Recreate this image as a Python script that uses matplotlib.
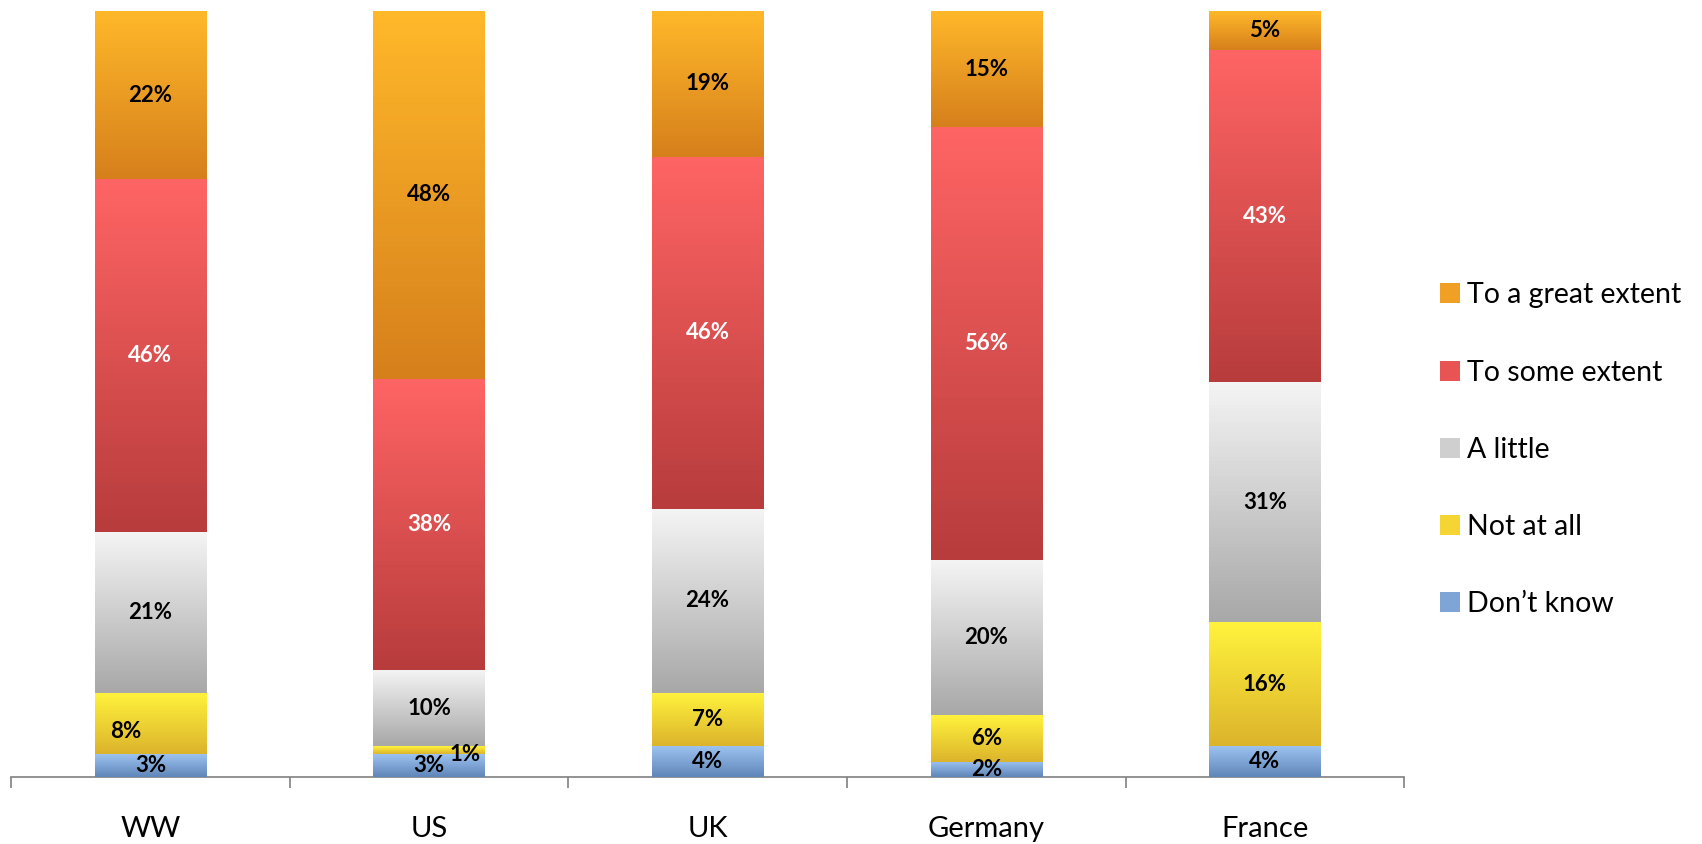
import matplotlib
matplotlib.use("Agg")
import matplotlib.pyplot as plt
import numpy as np
from matplotlib.colors import LinearSegmentedColormap
from matplotlib.patches import Rectangle

plt.rcParams['font.family'] = ['Lato', 'DejaVu Sans']

countries = ["WW", "US", "UK", "Germany", "France"]
series_names = ["Don\u2019t know", "Not at all", "A little", "To some extent", "To a great extent"]
dont_know = [3, 3, 4, 2, 4]
not_at_all = [8, 1, 7, 6, 16]
a_little = [21, 10, 24, 20, 31]
some_extent = [46, 38, 46, 56, 43]
great_extent = [22, 48, 19, 15, 5]

series = [dont_know, not_at_all, a_little, some_extent, great_extent]
# (top colour, bottom colour, label colour)
styles = [
    ("#9cc2f0", "#5f86b8", "black"),
    ("#fff23c", "#dcb42c", "black"),
    ("#f4f4f4", "#a8a8a8", "black"),
    ("#ff6464", "#b83c3c", "white"),
    ("#ffb82a", "#d6801c", "black"),
]
legend_colors = ["#7fa4d6", "#f4d534", "#cfcfcf", "#e85454", "#f0a024"]

fig = plt.figure(figsize=(17.02, 8.44), dpi=100)
ax = fig.add_axes([0.0065, 0.0794, 0.8185, 0.9076])

x = np.arange(len(countries)) + 0.5
width = 0.40
totals = np.sum(np.array(series, dtype=float), axis=0)
bottom = np.zeros(len(countries))

label_offsets = {(1, 1): (0.13, -0.6), (0, 1): (-0.09, -1.0)}

handles = []
for si, (vals, (ctop, cbot, tcol)) in enumerate(zip(series, styles)):
    share = np.array(vals, dtype=float) / totals * 100
    bars = ax.bar(x, share, width, bottom=bottom, color=cbot, edgecolor="none", zorder=2)
    cmap = LinearSegmentedColormap.from_list("g%d" % si, [cbot, ctop])
    grad = np.linspace(0, 1, 64).reshape(-1, 1)
    for ci, b in enumerate(bars):
        x0, y0 = b.get_x(), b.get_y()
        im = ax.imshow(grad, cmap=cmap, aspect="auto", origin="lower",
                       extent=[x0, x0 + b.get_width(), y0, y0 + b.get_height()], zorder=3)
        im.set_clip_path(b)
        dx, dy = label_offsets.get((ci, si), (0, 0))
        ax.text(x[ci] + dx, y0 + b.get_height() / 2 + dy, "%d%%" % vals[ci],
                ha="center", va="center", fontsize=16, fontweight="bold",
                color=tcol, zorder=5)
    bottom += share
    handles.append(Rectangle((0, 0), 1, 1, facecolor=legend_colors[si], edgecolor="none"))

ax.set_xlim(0, 5)
ax.set_ylim(0, 100)
ax.set_yticks([])
for s in ["top", "left", "right"]:
    ax.spines[s].set_visible(False)
ax.spines["bottom"].set_color("#808080")
ax.spines["bottom"].set_linewidth(1.2)
ax.set_xticks(np.arange(6))
ax.set_xticklabels([])
ax.tick_params(axis="x", which="major", direction="out", length=8, width=1.2, color="#808080")
ax.set_xticks(x, minor=True)
ax.set_xticklabels(countries, minor=True, fontsize=21)
ax.tick_params(axis="x", which="minor", length=0, pad=28)

leg = fig.legend(handles[::-1], series_names[::-1], loc="center left",
                 bbox_to_anchor=(0.846, 0.467), frameon=False, fontsize=20.5,
                 handlelength=0.7, handleheight=0.7, handletextpad=0.25,
                 labelspacing=1.8, borderpad=0, borderaxespad=0)

fig.savefig("out.png", dpi=100)
